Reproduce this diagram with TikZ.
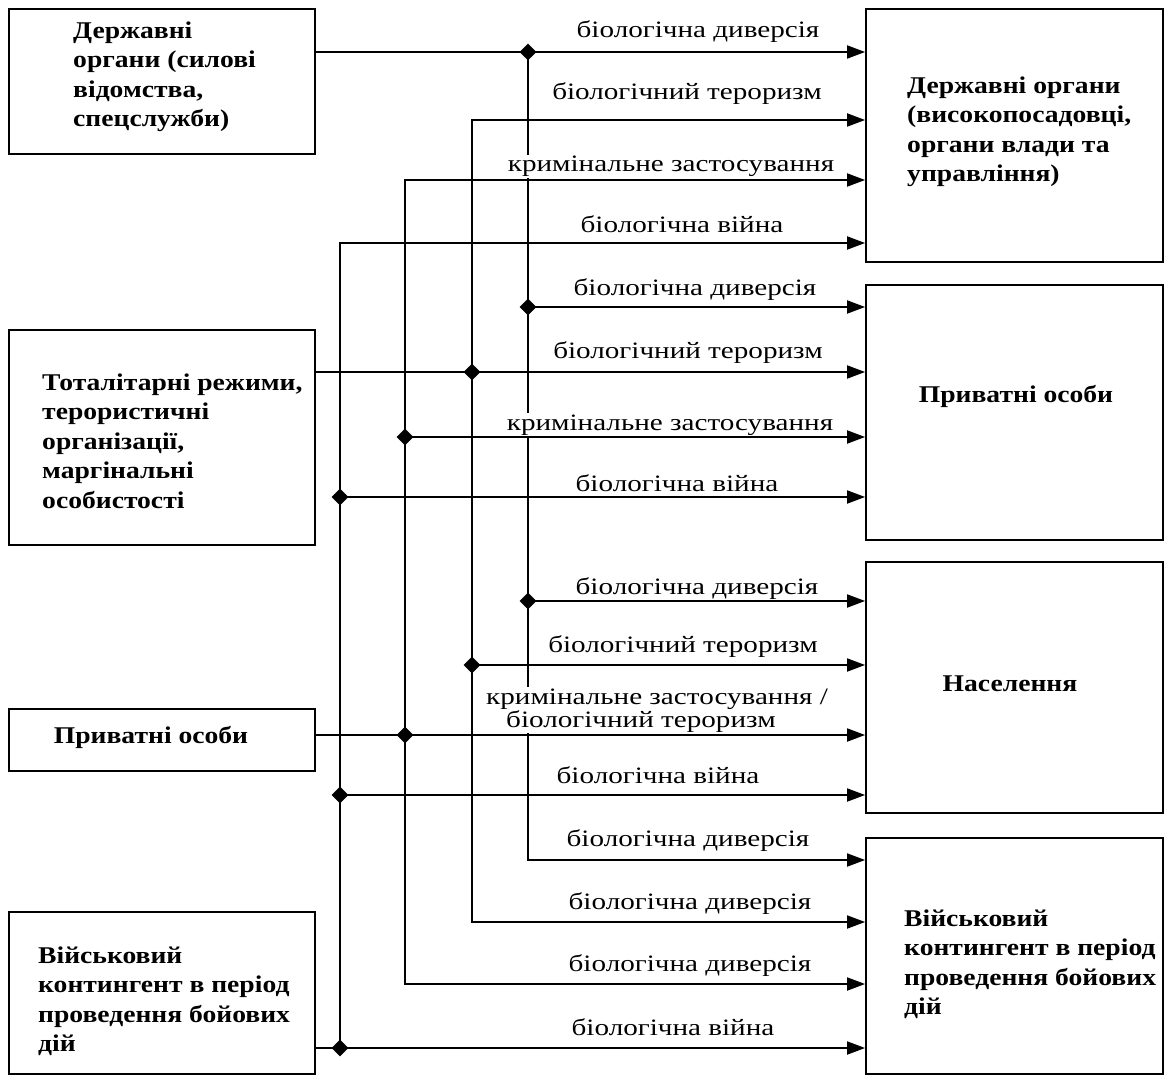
\documentclass[tikz,border=0pt]{standalone}
\usepackage{fontspec}
\setmainfont{Liberation Serif}
\newfontfamily\lab{Liberation Serif}[FakeStretch=1.24]
\newfontfamily\bld{Liberation Serif}[FakeStretch=1.15,UprightFont=* Bold]
\usetikzlibrary{arrows.meta,shapes.geometric}
\begin{document}
\begin{tikzpicture}[x=1pt,y=-1pt,
  box/.style={draw,line width=1.8pt,inner sep=0},
  ln/.style={line width=1.8pt},
  arr/.style={line width=1.8pt,-{Triangle[length=18pt,width=13pt]}},
  arrboth/.style={line width=1.8pt,{Triangle[length=18pt,width=13pt]}-{Triangle[length=18pt,width=13pt]}},
  dot/.style={diamond,fill=black,inner sep=0,minimum width=17pt,minimum height=17pt},
  lbl/.style={font=\lab\fontsize{23.5}{23}\selectfont,anchor=base,fill=white,inner sep=1pt},
  btxt/.style={font=\bld\fontsize{24}{29.5}\selectfont,align=left,inner sep=0}]
\useasboundingbox (0,0) rectangle (1164,1075);
% left boxes
\node[box,minimum width=306pt,minimum height=145pt] (L1) at (162,81.5) {};
\node[box,minimum width=306pt,minimum height=215pt] (L2) at (162,437.5) {};
\node[box,minimum width=306pt,minimum height=62pt] (L3) at (162,740) {};
\node[box,minimum width=306pt,minimum height=162pt] (L4) at (162,993) {};
% right boxes
\node[box,minimum width=297pt,minimum height=253pt] (R1) at (1014.5,135.5) {};
\node[box,minimum width=297pt,minimum height=255pt] (R2) at (1014.5,412.5) {};
\node[box,minimum width=297pt,minimum height=251pt] (R3) at (1014.5,687.5) {};
\node[box,minimum width=297pt,minimum height=236pt] (R4) at (1014.5,956) {};
% texts
\node[btxt,anchor=west] (tL1) at (73,77) {Державні\\органи (силові\\відомства,\\спецслужби)};
\node[btxt,anchor=west] (tL2) at (42,441) {Тоталітарні режими,\\терористичні\\організації,\\маргінальні\\особистості};
\node[btxt] (tL3) at (151,737) {Приватні особи};
\node[btxt,anchor=west] (tL4) at (38,1001) {Військовий\\контингент в період\\проведення бойових\\дій};
\node[btxt,anchor=west] (tR1) at (907,132) {Державні органи\\(високопосадовці,\\органи влади та\\управління)};
\node[btxt] (tR2) at (1016,396) {Приватні особи};
\node[btxt] (tR3) at (1010,684) {Населення};
\node[btxt,anchor=west] (tR4) at (904,964) {Військовий\\контингент в період\\проведення бойових\\дій};
% junctions
\node[dot] (d1) at (528,52) {};
\node[dot] (d1b) at (528,307) {};
\node[dot] (d1c) at (528,601) {};
\coordinate (c1) at (528,860);
\node[dot] (d2) at (472,372) {};
\coordinate (c2t) at (472,120);
\node[dot] (d2b) at (472,665) {};
\coordinate (c2b) at (472,922);
\node[dot] (d3) at (405,735) {};
\coordinate (c3t) at (405,180);
\node[dot] (d3b) at (405,437) {};
\coordinate (c3b) at (405,984);
\node[dot] (d4) at (340,1048) {};
\coordinate (c4t) at (340,243);
\node[dot] (d4b) at (340,497) {};
\node[dot] (d4c) at (340,795) {};
% connectors
\draw[arr] (L1.east |- d1.center) -- (d1.center -| R1.west);
\draw[arr] (d1.center) -- (c1) -- (c1 -| R4.west);
\draw[arr] (d1b.center) -- (d1b.center -| R2.west);
\draw[arr] (d1c.center) -- (d1c.center -| R3.west);
\draw[arr] (L2.east |- d2.center) -- (d2.center -| R2.west);
\draw[arrboth] (c2t -| R1.west) -- (c2t) -- (c2b) -- (c2b -| R4.west);
\draw[arr] (d2b.center) -- (d2b.center -| R3.west);
\draw[arr] (L3.east |- d3.center) -- (d3.center -| R3.west);
\draw[arrboth] (c3t -| R1.west) -- (c3t) -- (c3b) -- (c3b -| R4.west);
\draw[arr] (d3b.center) -- (d3b.center -| R2.west);
\draw[arr] (L4.east |- d4.center) -- (d4.center -| R4.west);
\draw[arr] (d4.center) -- (c4t) -- (c4t -| R1.west);
\draw[arr] (d4b.center) -- (d4b.center -| R2.west);
\draw[arr] (d4c.center) -- (d4c.center -| R3.west);
% labels
\node[lbl] (a1) at (698,38) {біологічна диверсія};
\node[lbl] (a2) at (687,100) {біологічний тероризм};
\node[lbl] (a3) at (671,172) {кримінальне застосування};
\node[lbl] (a4) at (682,233) {біологічна війна};
\node[lbl] (b1) at (695,295) {біологічна диверсія};
\node[lbl] (b2) at (688,358) {біологічний тероризм};
\node[lbl] (b3) at (670,430) {кримінальне застосування};
\node[lbl] (b4) at (677,491) {біологічна війна};
\node[lbl] (e1) at (697,594) {біологічна диверсія};
\node[lbl] (e2) at (683,652) {біологічний тероризм};
\node[lbl,anchor=base west,align=left] (e3) at (485,727) {кримінальне застосування /\\\hspace*{20pt}біологічний тероризм};
\node[lbl] (e4) at (658,783) {біологічна війна};
\node[lbl] (f1) at (688,846) {біологічна диверсія};
\node[lbl] (f2) at (690,909) {біологічна диверсія};
\node[lbl] (f3) at (690,971) {біологічна диверсія};
\node[lbl] (f4) at (673,1035) {біологічна війна};
\end{tikzpicture}
\end{document}
